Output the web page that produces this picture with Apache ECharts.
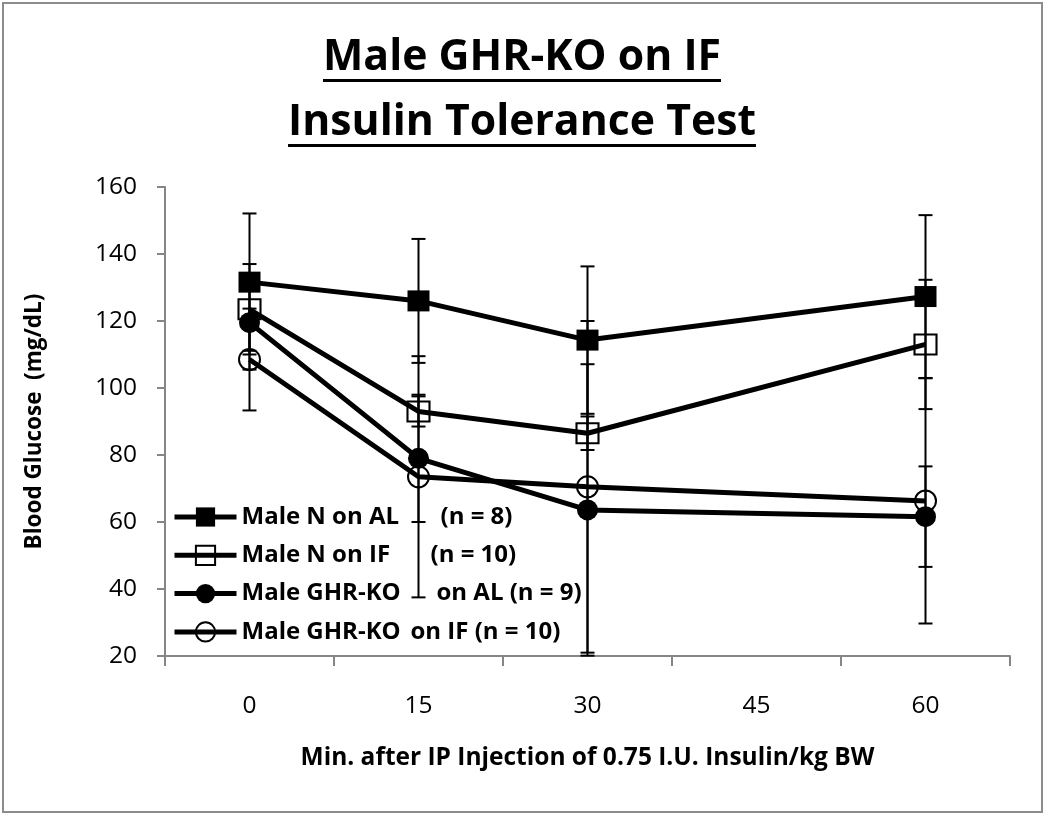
<!DOCTYPE html>
<html>
<head>
<meta charset="utf-8">
<script src="https://cdn.jsdelivr.net/npm/echarts@6/dist/echarts.min.js"></script>
<style>
html,body{margin:0;padding:0;background:#fff;}
#chart{width:1050px;height:821px;}
</style>
</head>
<body>
<div id="chart"></div>
<script>
// ---- data ----
var categories = ['0', '15', '30', '45', '60'];
var seriesMain = ['Male N on AL', 'Male N on IF', 'Male GHR-KO', 'Male GHR-KO'];
var seriesTail = ['(n = 8)', '(n = 10)', 'on AL (n = 9)', 'on IF (n = 10)'];
var nOnAL = [131.6, 126, 114.3, null, 127.3];
var nOnIF = [123.5, 93, 86.5, null, 113];
var koOnAL = [119.5, 79, 63.6, null, 61.6];
var koOnIF = [108.5, 73.5, 70.5, null, 66.3];
var sdNOnAL = [20.5, 18.5, 22, null, 24.3];
var sdNOnIF = [13.5, 4.5, 5, null, 19.3];
var sdKoOnAL = [14, 19, 43.5, null, 15];
var sdKoOnIF = [15.2, 36, 49.5, null, 36.6];
var yTicks = [20, 40, 60, 80, 100, 120, 140, 160];
var titleLines = ['Male GHR-KO on IF', 'Insulin Tolerance Test'];
var xTitle = 'Min. after IP Injection of 0.75 I.U. Insulin/kg BW';
var yTitle = 'Blood Glucose  (mg/dL)';

var values = [nOnAL, nOnIF, koOnAL, koOnIF];
var sds = [sdNOnAL, sdNOnIF, sdKoOnAL, sdKoOnIF];
var names = seriesMain.map(function (m, i) { return m + ' ' + seriesTail[i]; });

var FONT = '"Open Sans", "Noto Sans", sans-serif';
var cv = document.createElement('canvas').getContext('2d');
function measure(text, weight, size) {
  cv.font = weight + ' ' + size + 'px ' + FONT;
  return cv.measureText(text).width;
}
function fitSize(text, weight, target) {
  var w = measure(text, weight, 100);
  return Math.round(100 * target / w * 2) / 2;
}
var titleSize = (fitSize(titleLines[0], 'bold', 407) + fitSize(titleLines[1], 'bold', 457)) / 2;
var legendSize = fitSize(seriesMain[0], 'bold', 157);
var xTitleSize = fitSize(xTitle, 'bold', 578);
var yTitleSize = fitSize(yTitle, 'bold', 255);
var tickSize = fitSize('160', 'normal', 42);

var chart = echarts.init(document.getElementById('chart'));

var symbols = ['rect', 'rect', 'circle', 'circle'];
var filled = [true, false, true, false];
var symSizes = [[22, 21], [22, 20], 21, 21];

function errData(vals, sd) {
  var out = [];
  vals.forEach(function (v, i) {
    if (v != null && sd[i] != null) out.push([i, v - sd[i], v + sd[i]]);
  });
  return out;
}

var series = [];
values.forEach(function (vals, k) {
  series.push({
    type: 'custom',
    name: names[k] + ' err',
    z: 1,
    silent: true,
    data: errData(vals, sds[k]),
    encode: { x: 0, y: [1, 2] },
    renderItem: function (params, api) {
      var x = api.value(0);
      var lo = api.coord([x, api.value(1)]);
      var hi = api.coord([x, api.value(2)]);
      var cw = 7;
      var st = { stroke: '#000', lineWidth: 2 };
      return {
        type: 'group',
        children: [
          { type: 'line', shape: { x1: lo[0], y1: lo[1], x2: hi[0], y2: hi[1] }, style: st },
          { type: 'line', shape: { x1: lo[0] - cw, y1: lo[1], x2: lo[0] + cw, y2: lo[1] }, style: st },
          { type: 'line', shape: { x1: hi[0] - cw, y1: hi[1], x2: hi[0] + cw, y2: hi[1] }, style: st }
        ]
      };
    }
  });
});
values.forEach(function (vals, k) {
  series.push({
    type: 'line',
    name: names[k],
    z: 3,
    data: vals,
    connectNulls: true,
    symbol: symbols[k],
    symbolSize: symSizes[k],
    showAllSymbol: true,
    lineStyle: { color: '#000', width: 5 },
    itemStyle: filled[k]
      ? { color: '#000', borderColor: '#000', borderWidth: 0 }
      : { color: 'rgba(255,255,255,0)', borderColor: '#000', borderWidth: 2 },
    emphasis: { disabled: true },
    animation: false
  });
});

var richLegend = { n: { fontFamily: FONT, fontSize: legendSize, fontWeight: 'bold', color: '#000' } };
var mainWidths = [199, 189, 195, 169];
mainWidths.forEach(function (w, i) {
  richLegend['a' + i] = { width: w, fontFamily: FONT, fontSize: legendSize, fontWeight: 'bold', color: '#000' };
});

var tFont = 'bold ' + titleSize + 'px ' + FONT;
var tw = titleLines.map(function (t) { return measure(t, 'bold', titleSize); });
var cx = 522;
var graphics = [
  { type: 'rect', shape: { x: 3, y: 3, width: 1039, height: 809 }, style: { fill: 'none', stroke: '#8c8c8c', lineWidth: 2 }, silent: true },
  { type: 'text', x: cx, y: 58, style: { text: titleLines[0], font: tFont, fill: '#000', align: 'center', verticalAlign: 'middle' } },
  { type: 'text', x: cx, y: 123, style: { text: titleLines[1], font: tFont, fill: '#000', align: 'center', verticalAlign: 'middle' } },
  { type: 'rect', shape: { x: cx - tw[0] / 2, y: 79, width: tw[0], height: 3 }, style: { fill: '#000' } },
  { type: 'rect', shape: { x: cx - tw[1] / 2, y: 144, width: tw[1], height: 3 }, style: { fill: '#000' } }
];

chart.setOption({
  animation: false,
  backgroundColor: '#fff',
  graphic: graphics,
  grid: { left: 165, right: 40, top: 187, bottom: 165, containLabel: false },
  legend: {
    orient: 'vertical',
    left: 172,
    top: 505,
    data: names,
    itemWidth: 62,
    itemHeight: 24,
    itemGap: 14.3,
    padding: 0,
    selectedMode: false,
    lineStyle: { width: 5, color: '#000' },
    formatter: function (name) {
      var i = names.indexOf(name);
      return '{a' + i + '|' + seriesMain[i] + '}{n|' + seriesTail[i] + '}';
    },
    textStyle: { rich: richLegend, lineHeight: 24, padding: [0, 0, 0, 0] }
  },
  xAxis: {
    type: 'category',
    data: categories,
    boundaryGap: true,
    name: xTitle,
    nameLocation: 'middle',
    nameGap: 90,
    nameTextStyle: { fontFamily: FONT, fontSize: xTitleSize, fontWeight: 'bold', color: '#000' },
    axisLine: { lineStyle: { color: '#868686', width: 2 } },
    axisTick: { show: true, alignWithLabel: false, length: 10, lineStyle: { color: '#868686', width: 2 } },
    axisLabel: { margin: 38, fontFamily: FONT, fontSize: tickSize, color: '#000' },
    splitLine: { show: false }
  },
  yAxis: {
    type: 'value',
    min: yTicks[0],
    max: yTicks[yTicks.length - 1],
    interval: yTicks[1] - yTicks[0],
    name: yTitle,
    nameLocation: 'middle',
    nameGap: 119,
    nameTextStyle: { fontFamily: FONT, fontSize: yTitleSize, fontWeight: 'bold', color: '#000' },
    axisLine: { show: true, lineStyle: { color: '#868686', width: 2 } },
    axisTick: { show: true, length: 8, lineStyle: { color: '#868686', width: 2 } },
    axisLabel: { margin: 28, fontFamily: FONT, fontSize: tickSize, color: '#000' },
    splitLine: { show: false }
  },
  series: series
});
</script>
</body>
</html>
